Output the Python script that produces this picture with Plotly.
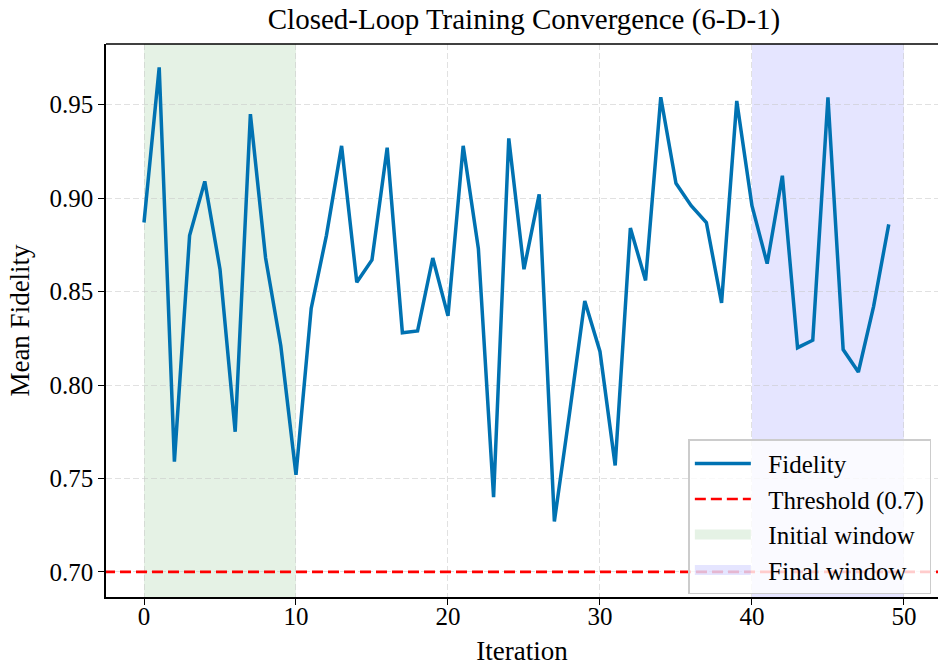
import plotly.graph_objects as go

iterations = list(range(50))
fidelity = [
    0.887, 0.970, 0.759, 0.880, 0.909, 0.862, 0.775, 0.945, 0.868, 0.821,
    0.752, 0.841, 0.880, 0.928, 0.855, 0.867, 0.927, 0.828, 0.829, 0.868,
    0.837, 0.928, 0.873, 0.740, 0.932, 0.862, 0.902, 0.727, 0.785, 0.845,
    0.818, 0.757, 0.884, 0.856, 0.954, 0.908, 0.896, 0.887, 0.844, 0.952,
    0.896, 0.865, 0.912, 0.820, 0.824, 0.954, 0.819, 0.807, 0.842, 0.886,
]
threshold = 0.7
initial_window = [0, 10]
final_window = [40, 50]
x_ticks = [0, 10, 20, 30, 40, 50]
y_ticks = [0.70, 0.75, 0.80, 0.85, 0.90, 0.95]
legend_names = ["Fidelity", "Threshold (0.7)", "Initial window", "Final window"]

FONT = "Liberation Serif"
W, H = 938, 666
L, R, T, B = 106, 0, 44, 69
PAD = "\u00a0\u00a0"

fig = go.Figure()

# spans
fig.add_shape(type="rect", xref="x", yref="paper", x0=initial_window[0], x1=initial_window[1],
              y0=0, y1=1, fillcolor="rgba(0,128,0,0.1)", line_width=0, layer="below")
fig.add_shape(type="rect", xref="x", yref="paper", x0=final_window[0], x1=final_window[1],
              y0=0, y1=1, fillcolor="rgba(0,0,255,0.1)", line_width=0, layer="below")
# top frame line
fig.add_shape(type="line", xref="paper", yref="paper", x0=0, x1=1, y0=1, y1=1,
              line=dict(color="black", width=1.6), layer="above")

fig.add_trace(go.Scatter(x=iterations, y=fidelity, mode="lines", name=PAD + legend_names[0],
                         line=dict(color="#0072B2", width=3.5)))
fig.add_trace(go.Scatter(x=[-10, 60], y=[threshold, threshold], mode="lines",
                         name=PAD + legend_names[1],
                         line=dict(color="red", width=2.7, dash="11px,5px")))
fig.add_trace(go.Scatter(x=[None], y=[None], mode="lines",
                         line=dict(color="rgba(0,128,0,0.1)", width=20),
                         name=PAD + legend_names[2]))
fig.add_trace(go.Scatter(x=[None], y=[None], mode="lines",
                         line=dict(color="rgba(0,0,255,0.1)", width=20),
                         name=PAD + legend_names[3]))

fig.update_layout(
    width=W, height=H,
    margin=dict(l=L, r=R, t=T, b=B, pad=0, autoexpand=False),
    paper_bgcolor="white", plot_bgcolor="white",
    font=dict(family=FONT, color="black", size=25),
    title=dict(text="Closed-Loop Training Convergence (6-D-1)", x=524 / W,
               xanchor="center", y=1 - 19 / H, yanchor="middle",
               font=dict(family=FONT, size=29, color="black")),
    showlegend=True,
    legend=dict(x=0.992, xanchor="right", y=0.005, yanchor="bottom",
                bgcolor="rgba(255,255,255,0.8)", bordercolor="rgb(204,204,204)",
                borderwidth=1.5, font=dict(family=FONT, size=25, color="black"),
                itemwidth=56, tracegroupgap=0),
)
fig.update_xaxes(
    range=[-2.5, 52.24], tickvals=x_ticks, ticks="outside", ticklen=6, tickwidth=1.3,
    tickcolor="black", showline=True, linecolor="black", linewidth=1.6,
    showgrid=True, gridcolor="rgba(200,200,200,0.55)", griddash="6px,3px", gridwidth=1,
    zeroline=False, tickfont=dict(family=FONT, size=25), ticklabelstandoff=-10,
    automargin=False,
    title=dict(text="Iteration", font=dict(family=FONT, size=27), standoff=24),
)
fig.update_yaxes(
    range=[0.6866, 0.9825], tickvals=y_ticks, tickformat=".2f", ticks="outside", ticklen=6,
    tickwidth=1.3, tickcolor="black", showline=True, linecolor="black", linewidth=1.6,
    showgrid=True, gridcolor="rgba(200,200,200,0.55)", griddash="6px,3px", gridwidth=1,
    zeroline=False, tickfont=dict(family=FONT, size=25), automargin=False,
    title=dict(text="Mean Fidelity", font=dict(family=FONT, size=27), standoff=12),
)

fig.write_html("out.html")
